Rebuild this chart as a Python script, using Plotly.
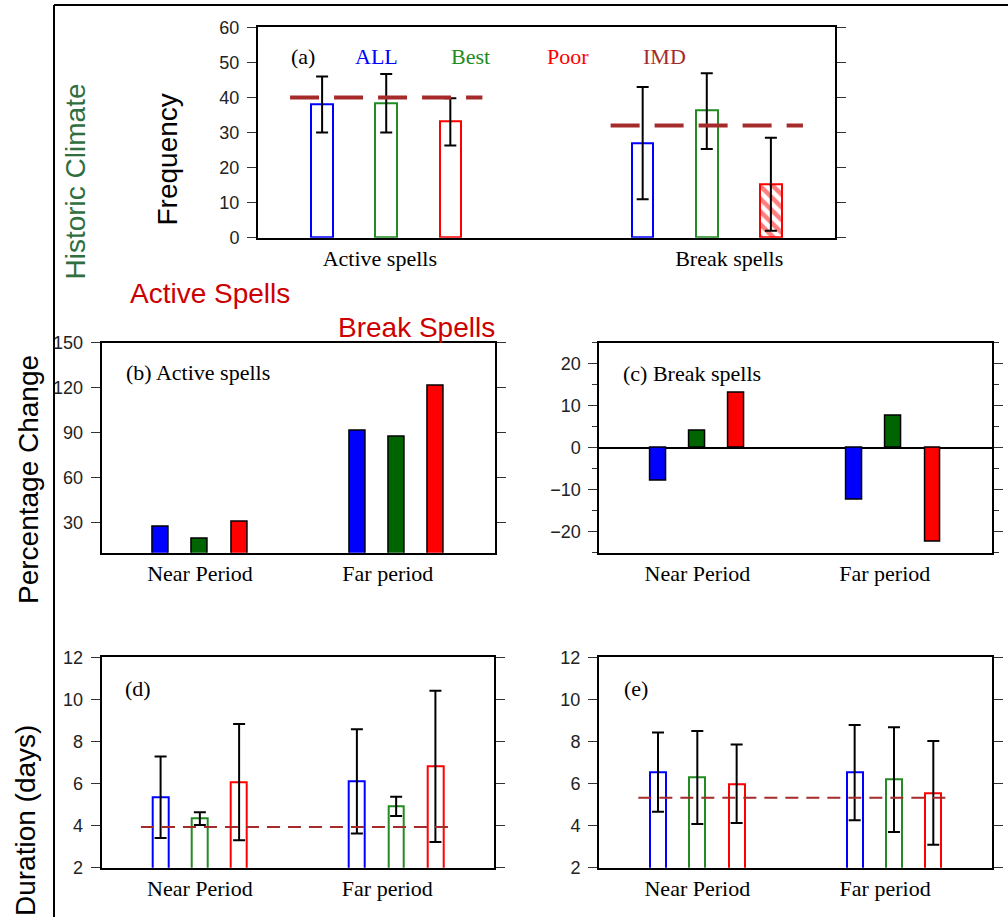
import plotly.graph_objects as go

W, H = 1008, 917

# ---------------- data ----------------
spell_groups = ["Active spells", "Break spells"]
periods = ["Near Period", "Far period"]
series_names = ["ALL", "Best", "Poor"]

# (a) historic frequency of spells
freq_all = [38.0, 27.0]
freq_all_hi = [46.0, 43.0]
freq_all_lo = [30.0, 11.0]
freq_best = [38.3, 36.2]
freq_best_hi = [46.7, 46.9]
freq_best_lo = [30.0, 25.3]
freq_poor = [33.1, 15.3]
freq_poor_hi = [39.8, 28.5]
freq_poor_lo = [26.3, 2.0]
imd_freq = [40.0, 32.0]

# (b) percentage change, active spells
pct_active_all = [27.6, 91.3]
pct_active_best = [19.3, 87.4]
pct_active_poor = [31.0, 121.6]

# (c) percentage change, break spells
pct_break_all = [-7.9, -12.4]
pct_break_best = [4.0, 7.7]
pct_break_poor = [13.2, -22.3]

# (d) duration of active spells (days)
dur_act_all = [5.37, 6.10]
dur_act_all_hi = [7.29, 8.58]
dur_act_all_lo = [3.41, 3.63]
dur_act_best = [4.33, 4.93]
dur_act_best_hi = [4.63, 5.37]
dur_act_best_lo = [4.03, 4.46]
dur_act_poor = [6.07, 6.82]
dur_act_poor_hi = [8.83, 10.41]
dur_act_poor_lo = [3.30, 3.22]
imd_dur_active = 3.93

# (e) duration of break spells (days)
dur_brk_all = [6.53, 6.52]
dur_brk_all_hi = [8.42, 8.78]
dur_brk_all_lo = [4.66, 4.25]
dur_brk_best = [6.30, 6.18]
dur_brk_best_hi = [8.50, 8.67]
dur_brk_best_lo = [4.08, 3.70]
dur_brk_poor = [5.98, 5.55]
dur_brk_poor_hi = [7.85, 8.02]
dur_brk_poor_lo = [4.12, 3.09]
imd_dur_break = 5.33

# ---------------- styling ----------------
BLUE = "#0000FF"
GREEN_LINE = "#228B22"
GREEN_FILL = "#006400"
RED = "#FF0000"
IMD_COL = "#A52A2A"
SERIF = "Liberation Serif, Times New Roman, serif"
SANS = "Liberation Sans, Arial, Helvetica, sans-serif"

group_pos = [1, 2]
offsets = [-0.2, 0.0, 0.2]


def px_x(p):
    return p / W


def px_y(p):
    return 1 - p / H


fig = go.Figure()


def err(vals, hi, lo):
    return dict(type="data", symmetric=False,
                array=[h - v for v, h in zip(vals, hi)],
                arrayminus=[v - l for v, l in zip(vals, lo)],
                color="black", thickness=2, width=6)


def open_bars(xa, ya, vals_list, his, los, colors, width, patterns=None):
    for i, (vals, hi, lo, col) in enumerate(zip(vals_list, his, los, colors)):
        marker = dict(color="white", line=dict(color=col, width=2))
        if patterns is not None and patterns[i] is not None:
            marker["pattern"] = dict(shape=patterns[i], fgcolor=col, bgcolor="white",
                                     size=9, solidity=0.5)
        fig.add_trace(go.Bar(
            x=[g + offsets[i] for g in group_pos], y=vals, width=width,
            marker=marker, error_y=err(vals, hi, lo),
            xaxis=xa, yaxis=ya, showlegend=False, name=series_names[i]))


def filled_bars(xa, ya, vals_list, colors, width):
    for i, (vals, col) in enumerate(zip(vals_list, colors)):
        fig.add_trace(go.Bar(
            x=[g + offsets[i] for g in group_pos], y=vals, width=width,
            marker=dict(color=col, line=dict(color="black", width=1.5)),
            xaxis=xa, yaxis=ya, showlegend=False, name=series_names[i]))


# (a)
open_bars("x", "y",
          [freq_all, freq_best, freq_poor],
          [freq_all_hi, freq_best_hi, freq_poor_hi],
          [freq_all_lo, freq_best_lo, freq_poor_lo],
          [BLUE, GREEN_LINE, RED], 0.067,
          patterns=[None, None, ["", "\\"]])
for g, v in zip(group_pos, imd_freq):
    fig.add_trace(go.Scatter(x=[g - 0.3, g + 0.3], y=[v, v], mode="lines",
                             line=dict(color=IMD_COL, width=4, dash="29px,15px"),
                             xaxis="x", yaxis="y", showlegend=False, name="IMD"))

# (b)
filled_bars("x2", "y2", [pct_active_all, pct_active_best, pct_active_poor],
            [BLUE, GREEN_FILL, RED], 0.081)
# (c)
filled_bars("x3", "y3", [pct_break_all, pct_break_best, pct_break_poor],
            [BLUE, GREEN_FILL, RED], 0.081)

# (d)
open_bars("x4", "y4",
          [dur_act_all, dur_act_best, dur_act_poor],
          [dur_act_all_hi, dur_act_best_hi, dur_act_poor_hi],
          [dur_act_all_lo, dur_act_best_lo, dur_act_poor_lo],
          [BLUE, GREEN_LINE, RED], 0.081)
fig.add_trace(go.Scatter(x=[0.7, 2.3], y=[imd_dur_active] * 2, mode="lines",
                         line=dict(color=IMD_COL, width=2, dash="13px,8px"),
                         xaxis="x4", yaxis="y4", showlegend=False, name="IMD"))

# (e)
open_bars("x5", "y5",
          [dur_brk_all, dur_brk_best, dur_brk_poor],
          [dur_brk_all_hi, dur_brk_best_hi, dur_brk_poor_hi],
          [dur_brk_all_lo, dur_brk_best_lo, dur_brk_poor_lo],
          [BLUE, GREEN_LINE, RED], 0.081)
fig.add_trace(go.Scatter(x=[0.7, 2.3], y=[imd_dur_break] * 2, mode="lines",
                         line=dict(color=IMD_COL, width=2, dash="13px,8px"),
                         xaxis="x5", yaxis="y5", showlegend=False, name="IMD"))


# ---------------- axes ----------------
def xax(domain, anchor, rng, tickvals, ticktext):
    return dict(domain=domain, anchor=anchor, range=rng, showgrid=False, zeroline=False,
                showline=True, linecolor="black", linewidth=2, mirror=True,
                ticks="", tickvals=tickvals, ticktext=ticktext, automargin=False,
                tickfont=dict(family=SERIF, size=22, color="black"))


def yax(domain, anchor, rng, dtick, tick0, zero=False):
    return dict(domain=domain, anchor=anchor, range=rng, showgrid=False,
                zeroline=zero, zerolinecolor="black", zerolinewidth=1.5,
                showline=True, linecolor="black", linewidth=2, mirror="ticks",
                ticks="outside", ticklen=9, tickwidth=1.2, tickcolor="#333",
                dtick=dtick, tick0=tick0, ticklabelstandoff=4, automargin=False,
                tickfont=dict(family=SANS, size=18, color="#222"))


ya_dom = [px_y(237.7), px_y(27.3)]
mid_dom = [px_y(552.7), px_y(342.7)]
bot_dom = [px_y(867.7), px_y(657.3)]

near_far_ticks = [1.0, 1.955]

layout_axes = dict(
    xaxis=xax([px_x(258), px_x(835)], "y", [0.6, 2.4], [0.98, 2.07], spell_groups),
    yaxis=yax(ya_dom, "x", [0, 60], 10, 0),
    xaxis2=xax([px_x(101.7), px_x(495)], "y2", [0.5, 2.5], near_far_ticks, periods),
    yaxis2=yax(mid_dom, "x2", [10, 150], 30, 0),
    xaxis3=xax([px_x(599.3), px_x(991.7)], "y3", [0.5, 2.5], near_far_ticks, periods),
    yaxis3=yax(mid_dom, "x3", [-25, 25], 10, 0, zero=True),
    xaxis4=xax([px_x(101.7), px_x(494.3)], "y4", [0.5, 2.5], near_far_ticks, periods),
    yaxis4=yax(bot_dom, "x4", [2, 12], 2, 0),
    xaxis5=xax([px_x(599), px_x(992.3)], "y5", [0.5, 2.5], near_far_ticks, periods),
    yaxis5=yax(bot_dom, "x5", [2, 12], 2, 0),
)
layout_axes["yaxis3"]["minor"] = dict(ticks="outside", ticklen=5, dtick=5, tick0=0,
                                      tickcolor="#333", tickwidth=1.2)


# ---------------- text ----------------
def note(text, x, y, size, color, family, xanchor="center", angle=0):
    return dict(text=text, x=px_x(x), y=px_y(y), xref="paper", yref="paper",
                xanchor=xanchor, yanchor="middle", showarrow=False, textangle=angle,
                font=dict(family=family, size=size, color=color))


annotations = [
    note("(a)", 303, 57, 22, "black", SERIF),
    note("ALL", 376.5, 57, 22, BLUE, SERIF),
    note("Best", 470.5, 57, 22, GREEN_LINE, SERIF),
    note("Poor", 568, 57, 22, RED, SERIF),
    note("IMD", 664.7, 57, 22, IMD_COL, SERIF),
    note("(b) Active spells", 124, 372, 22, "black", SERIF, xanchor="left"),
    note("(c) Break spells", 620.5, 373, 22, "black", SERIF, xanchor="left"),
    note("(d)", 123, 688.5, 22, "black", SERIF, xanchor="left"),
    note("(e)", 621.5, 688.5, 22, "black", SERIF, xanchor="left"),
    note("Historic Climate", 75, 181.5, 28, "#2F6F3F", SANS, angle=-90),
    note("Frequency", 167.5, 160, 28, "black", SANS, angle=-90),
    note("Active Spells", 210, 293, 28, "#CC0000", SANS),
    note("Break Spells", 416.5, 327, 28, "#CC0000", SANS),
    note("Percentage Change", 28, 480, 28, "black", SANS, angle=-90),
    note("Duration (days)", 25, 821, 28, "black", SANS, angle=-90),
]

# outer frame (left and top edges)
shapes = [
    dict(type="line", xref="paper", yref="paper", x0=px_x(54), x1=px_x(54),
         y0=0, y1=px_y(5), line=dict(color="black", width=2)),
    dict(type="line", xref="paper", yref="paper", x0=px_x(54), x1=1,
         y0=px_y(5), y1=px_y(5), line=dict(color="black", width=2)),
]

fig.update_layout(
    width=W, height=H, margin=dict(l=0, r=0, t=0, b=0, autoexpand=False),
    paper_bgcolor="white", plot_bgcolor="white",
    barmode="overlay", bargap=0, showlegend=False,
    annotations=annotations, shapes=shapes,
    **layout_axes,
)

fig.write_html("out.html")
